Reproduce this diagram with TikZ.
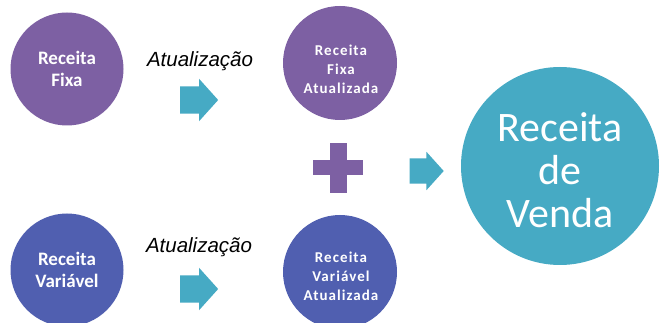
\documentclass[tikz,border=0pt]{standalone}
\usepackage{fontspec}
\setmainfont{Carlito}
\newfontfamily\arialfont{Liberation Sans}
\newfontfamily\spacedfont[LetterSpace=7]{Carlito}
\usetikzlibrary{shapes.arrows}
\definecolor{cpurple}{RGB}{125,96,163}
\definecolor{cblue}{RGB}{80,95,176}
\definecolor{cteal}{RGB}{70,170,196}
\tikzset{
  circ/.style={circle,inner sep=0pt,align=center,text=white},
  smalltxt/.style={inner sep=0pt,align=center,text=white,font=\spacedfont\bfseries\fontsize{15}{19}\selectfont},
  rarrow/.style={single arrow,fill=cteal,draw=none,inner xsep=0pt,inner ysep=13.5pt,minimum height=38pt,single arrow head extend=7.5pt,single arrow tip angle=96},
  lbl/.style={font=\arialfont\itshape\fontsize{20.5}{23}\selectfont,inner sep=0pt}
}
\begin{document}
\begin{tikzpicture}[x=1pt,y=-1pt]
\useasboundingbox (0,0) rectangle (662,323);
\fill[white] (0,0) rectangle (662,323);
\node[circ,fill=cpurple,minimum size=113pt,font=\bfseries\fontsize{19}{22}\selectfont] (rf) at (67,69) {Receita\\Fixa};
\node[circ,fill=cblue,minimum size=113pt,font=\bfseries\fontsize{19}{22}\selectfont] (rv) at (67,270) {Receita\\Variável};
\node[circ,fill=cpurple,minimum size=114pt] (rfa) at (340,63) {};
\node[smalltxt] (rfat) at (341,69) {Receita\\Fixa\\Atualizada};
\node[circ,fill=cblue,minimum size=114pt] (rva) at (340,272) {};
\node[smalltxt] (rvat) at (341,276) {Receita\\Variável\\Atualizada};
\node[circ,fill=cteal,minimum size=198pt] (rvd) at (560,166) {};
\node[inner sep=0pt,align=center,text=white,font=\fontsize{42}{43}\selectfont] (rvdt) at (560,170) {Receita\\de\\Venda};
\node[lbl] (l1) at (200,61) {Atualização};
\node[lbl] (l2) at (199,247) {Atualização};
\node[rarrow] (a1) at (193,100) {};
\node[rarrow] (a2) at (193,289) {};
\node[rarrow,minimum height=34pt,inner ysep=12.5pt,single arrow head extend=6.5pt] (a3) at (421,171) {};
\coordinate (plus) at (338,168);
\fill[cpurple] ([xshift=-8.5pt,yshift=-25pt]plus) rectangle ([xshift=8.5pt,yshift=25pt]plus);
\fill[cpurple] ([xshift=-25pt,yshift=-7.5pt]plus) rectangle ([xshift=25pt,yshift=7.5pt]plus);
\end{tikzpicture}
\end{document}
